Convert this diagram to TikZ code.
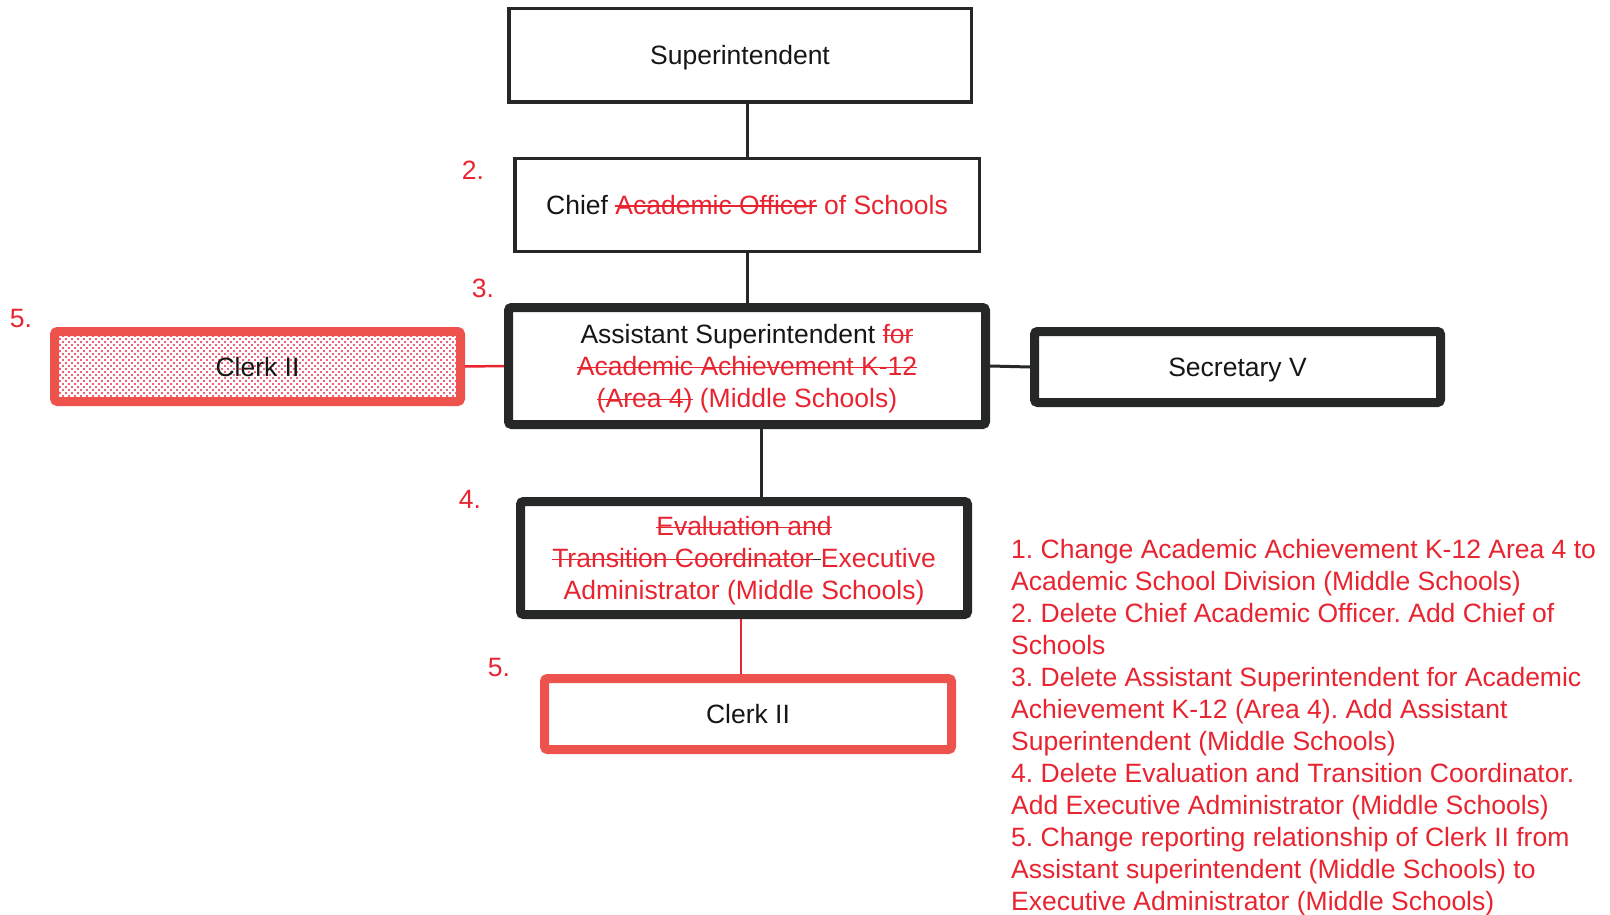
\documentclass[tikz,border=0pt]{standalone}
\usepackage{fontspec}
\setmainfont{Liberation Sans}
\usetikzlibrary{patterns.meta}
\definecolor{txtred}{RGB}{232,36,48}
\definecolor{dotred}{RGB}{232,40,70}
\definecolor{boxred}{RGB}{238,82,76}
\definecolor{dark}{RGB}{38,40,40}
\definecolor{ink}{RGB}{22,22,22}
\tikzdeclarepattern{
  name=reddots,
  type=uncolored,
  bottom left={(-1.2pt,-1.2pt)},
  top right={(4.2pt,4.2pt)},
  tile size={(6pt,6pt)},
  code={\fill (0pt,0pt) circle (1.05pt); \fill (3pt,3pt) circle (1.05pt);}
}
\newsavebox{\strikebox}
\newcommand{\rd}[1]{\textcolor{txtred}{#1}}
\newcommand{\rs}[1]{\textcolor{txtred}{\sbox{\strikebox}{#1}\rlap{\rule[0.52ex]{\wd\strikebox}{1.8pt}}\usebox{\strikebox}}}
\tikzset{
  oneline/.style={text height=19pt, text depth=0pt},
  thinbox/.style={draw=dark, line width=3.5pt, fill=white, inner sep=0pt, text=ink, oneline},
  thickbox/.style={draw=dark, line width=9pt, rounded corners=3pt, fill=white, inner sep=0pt, text=ink, align=center, text depth=0pt},
  redbox/.style={draw=boxred, line width=9pt, rounded corners=3pt, inner sep=0pt, text=ink, oneline},
  conn/.style={draw=dark, line width=3pt},
  redconn/.style={draw=txtred, line width=2.5pt},
  lbl/.style={text=txtred, inner sep=0pt}
}
\begin{document}
\begin{tikzpicture}[x=1pt,y=-1pt,font=\fontsize{26.5}{32}\selectfont\frenchspacing]
\useasboundingbox (0,0) rectangle (1610,915);
\fill[white] (0,0) rectangle (1610,915);

\node[thinbox, minimum width=462.5pt, minimum height=93.5pt] (super) at (740,55.5) {Superintendent};
\node[thinbox, minimum width=464.5pt, minimum height=92.5pt] (chief) at (747,205) {Chief \rs{Academic Officer} \rd{of Schools}};
\node[thickbox, minimum width=477pt, minimum height=117pt] (asst) at (747,366)
  {Assistant Superintendent \rs{for}\\\rs{Academic Achievement K-12}\\\rs{(Area 4)} \rd{(Middle Schools)}};
\node[redbox, pattern={reddots}, pattern color=dotred, minimum width=406pt, minimum height=70pt] (clerkA) at (257.5,366.5) {Clerk II};
\node[thickbox, oneline, minimum width=406pt, minimum height=71pt] (sec) at (1237.5,367) {Secretary V};
\node[thickbox, minimum width=447pt, minimum height=113pt] (eval) at (744,558)
  {\rs{Evaluation and}\\\rs{Transition Coordinator}\textcolor{dark}{\rule[0.52ex]{0.28em}{1.8pt}}\rd{Executive}\\\rd{Administrator (Middle Schools)}};
\node[redbox, fill=white, minimum width=407pt, minimum height=71pt] (clerkB) at (748,714) {Clerk II};

\draw[conn] (chief.north) -- (chief.north |- super.south);
\draw[conn] (asst.north) -- (chief.south);
\draw[conn] ([xshift=14pt]asst.south) -- ([xshift=14pt]asst.south |- eval.north);
\draw[conn] (asst.east) -- (sec.west);
\draw[redconn] (clerkA.east) -- (asst.west);
\draw[redconn] ([xshift=-3pt]eval.south) -- ([xshift=-3pt]eval.south |- clerkB.north);

\node[lbl] (n2) at (473,170) {2.};
\node[lbl] (n3) at (483,288) {3.};
\node[lbl] (n5a) at (21,319) {5.};
\node[lbl] (n4) at (470,499) {4.};
\node[lbl] (n5b) at (499,668) {5.};

\node[anchor=north west, align=left, text=txtred, inner sep=0pt] (notes) at (1011,539)
 {1. Change Academic Achievement K-12 Area 4 to\\
  Academic School Division (Middle Schools)\\
  2. Delete Chief Academic Officer. Add Chief of\\
  Schools\\
  3. Delete Assistant Superintendent for Academic\\
  Achievement K-12 (Area 4). Add Assistant\\
  Superintendent (Middle Schools)\\
  4. Delete Evaluation and Transition Coordinator.\\
  Add Executive Administrator (Middle Schools)\\
  5. Change reporting relationship of Clerk II from\\
  Assistant superintendent (Middle Schools) to\\
  Executive Administrator (Middle Schools)};
\end{tikzpicture}
\end{document}
